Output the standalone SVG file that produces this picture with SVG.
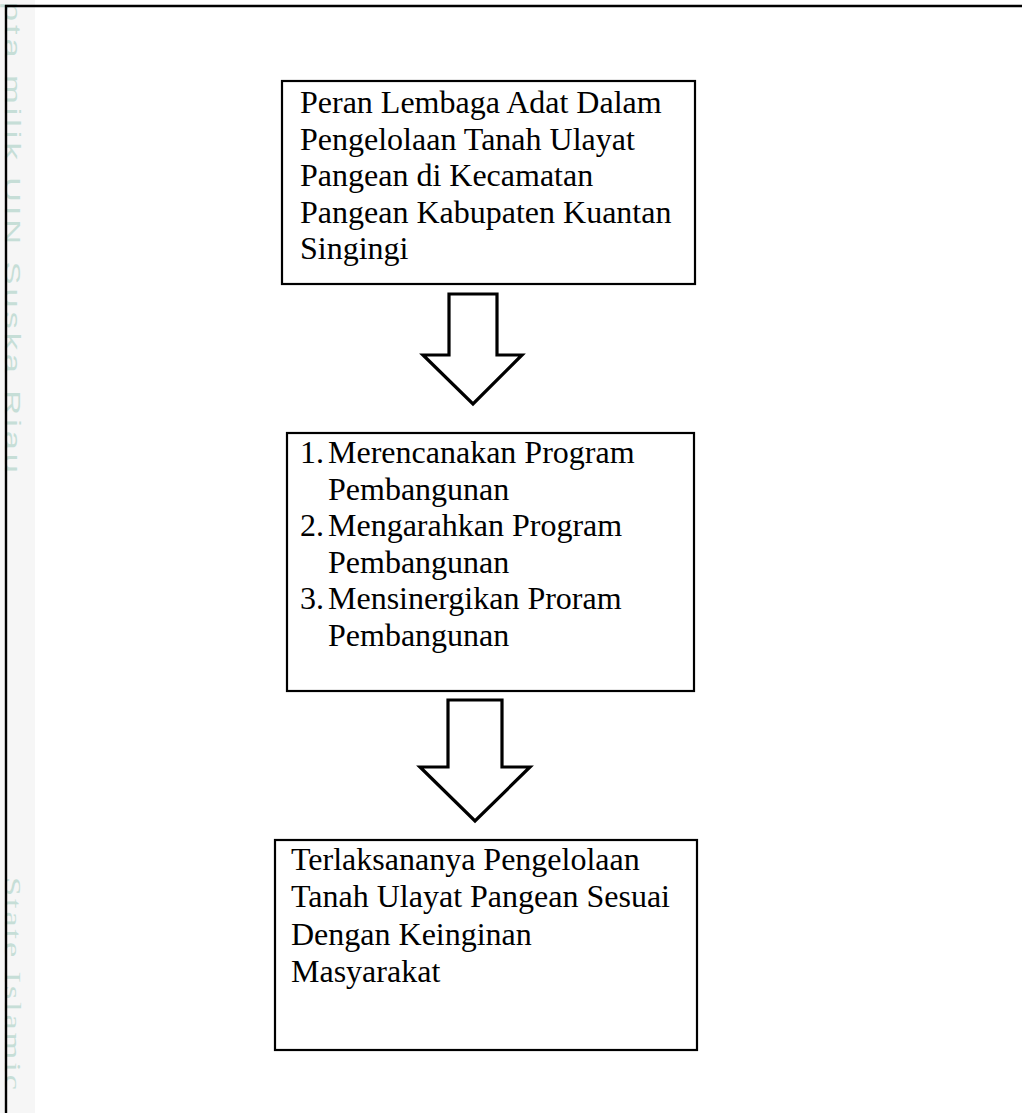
<svg xmlns="http://www.w3.org/2000/svg" width="1022" height="1113" viewBox="0 0 1022 1113">
<style>
.box{fill:none;stroke:#000;stroke-width:2.2}
.arr{fill:#fff;stroke:#000;stroke-width:3.2;stroke-linejoin:miter}
.t{font-family:"Liberation Serif","Times New Roman",serif;font-size:32px;fill:#000}
.wm{font-family:"Liberation Sans",Arial,sans-serif;font-size:23px;fill:#c6ded7}
.wm2{font-family:"Liberation Serif","Times New Roman",serif;font-size:23px;fill:#c6ded7}
</style>
<rect x="0" y="0" width="1022" height="1113" fill="#fff"/>
<rect x="0" y="0" width="35" height="1113" fill="#f6f6f6"/>
<g id="watermark">
<text class="wm" transform="translate(5,2) rotate(90) scale(1.5,1)" textLength="314" lengthAdjust="spacing">pta milik UIN Suska Riau</text>
<text class="wm2" transform="translate(5,877) rotate(90) scale(1.5,1)" textLength="142" lengthAdjust="spacing">State Islamic</text>
</g>
<g id="frame">
<line x1="5" y1="6" x2="1022" y2="6" stroke="#000" stroke-width="2.4"/>
<line x1="6" y1="5" x2="6" y2="1113" stroke="#000" stroke-width="2.4"/>
</g>
<g id="node1">
<rect class="box" x="282" y="81" width="413" height="203"/>
<text class="t"><tspan x="300" y="113">Peran Lembaga Adat Dalam</tspan><tspan x="300" y="149.5">Pengelolaan Tanah Ulayat</tspan><tspan x="300" y="186">Pangean di Kecamatan</tspan><tspan x="300" y="222.5">Pangean Kabupaten Kuantan</tspan><tspan x="300" y="259">Singingi</tspan></text>
</g>
<g id="node2">
<rect class="box" x="287" y="433" width="407" height="258"/>
<text class="t"><tspan x="300" y="463">1.</tspan><tspan x="328" y="463">Merencanakan Program</tspan><tspan x="328" y="499.5">Pembangunan</tspan><tspan x="300" y="536">2.</tspan><tspan x="328" y="536">Mengarahkan Program</tspan><tspan x="328" y="572.5">Pembangunan</tspan><tspan x="300" y="609">3.</tspan><tspan x="328" y="609">Mensinergikan Proram</tspan><tspan x="328" y="645.5">Pembangunan</tspan></text>
</g>
<g id="node3">
<rect class="box" x="275" y="840" width="422" height="210"/>
<text class="t"><tspan x="291" y="870">Terlaksananya Pengelolaan</tspan><tspan x="291" y="907">Tanah Ulayat Pangean Sesuai</tspan><tspan x="291" y="944.5">Dengan Keinginan</tspan><tspan x="291" y="981.5">Masyarakat</tspan></text>
</g>
<g id="connectors">
<polygon class="arr" points="449,294 497,294 497,355 522,355 473,404 423,355 449,355"/>
<polygon class="arr" points="448,700 502,700 502,767 530,767 475,821 420,767 448,767"/>
</g>
</svg>
